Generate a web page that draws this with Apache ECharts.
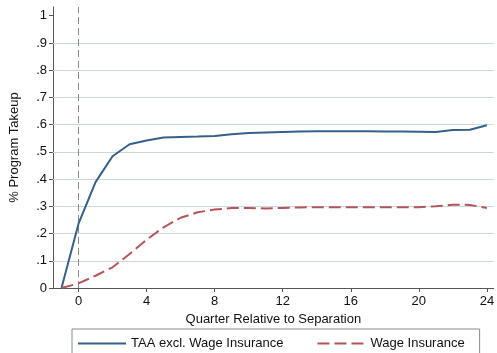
<!DOCTYPE html>
<html><head><meta charset="utf-8">
<script src="https://cdn.jsdelivr.net/npm/echarts@6/dist/echarts.min.js"></script>
<style>html,body{margin:0;padding:0;background:#fff}#c{width:497px;height:353px}</style>
</head><body><div id="c"></div>
<script>
const quarters = [-1,0,1,2,3,4,5,6,7,8,9,10,11,12,13,14,15,16,17,18,19,20,21,22,23,24];
const taaExclWI = [0,0.236,0.389,0.484,0.528,0.542,0.553,0.555,0.556,0.558,0.565,0.569,0.571,0.573,0.575,0.576,0.576,0.576,0.576,0.575,0.575,0.574,0.573,0.580,0.581,0.598];
const wageIns = [0,0.017,0.045,0.076,0.125,0.177,0.223,0.258,0.278,0.288,0.294,0.294,0.292,0.294,0.296,0.297,0.297,0.297,0.297,0.297,0.297,0.297,0.300,0.306,0.305,0.294];
const xTicks = [0,4,8,12,16,20,24];
const yTicks = [0,0.1,0.2,0.3,0.4,0.5,0.6,0.7,0.8,0.9,1];
const gridValues = [0.1,0.2,0.3,0.4,0.5,0.6,0.7,0.8,0.9];

const font = 'Liberation Sans, Arial, Helvetica, sans-serif';
const gridColor = '#c9d8d8';
const chart = echarts.init(document.getElementById('c'));
chart.setOption({
  animation: false,
  textStyle: {fontFamily: font},
  grid: {left: 46, right: 0, top: 7, bottom: 65, containLabel: false},
  xAxis: {
    type: 'value', min: -1.5, max: 24.4,
    name: 'Quarter Relative to Separation', nameLocation: 'middle', nameGap: 24,
    nameTextStyle: {fontSize: 13, color: '#111', fontFamily: font},
    axisLine: {show: true, onZero: false, lineStyle: {color: '#555', width: 1}},
    axisTick: {show: true, length: 4, customValues: xTicks, lineStyle: {color: '#555'}},
    axisLabel: {customValues: xTicks, fontSize: 13, color: '#111', margin: 7, fontFamily: font},
    splitLine: {show: false}
  },
  yAxis: {
    type: 'value', min: 0, max: 1.032,
    name: '% Program Takeup', nameLocation: 'middle', nameGap: 32,
    nameTextStyle: {fontSize: 13, color: '#111', fontFamily: font},
    axisLine: {show: true, onZero: false, lineStyle: {color: '#555', width: 1}},
    axisTick: {show: true, length: 4, customValues: yTicks, lineStyle: {color: '#555'}},
    axisLabel: {customValues: yTicks, fontSize: 13, color: '#111', margin: 6, fontFamily: font,
      formatter: v => (v === 0 ? '0' : v === 1 ? '1' : String(v).replace(/^0\./, '.'))},
    splitLine: {show: false}
  },
  legend: {
    left: 72, top: 329,
    padding: [8, 15, 8, 5],
    borderColor: '#888', borderWidth: 1,
    itemWidth: 48, itemHeight: 14, itemGap: 33,
    itemStyle: {opacity: 0},
    textStyle: {fontSize: 13, color: '#111', fontFamily: font},
    data: ['TAA excl. Wage Insurance', 'Wage Insurance']
  },
  series: [
    {
      name: 'TAA excl. Wage Insurance', type: 'line', symbol: 'none', showSymbol: false,
      data: quarters.map((q, i) => [q, taaExclWI[i]]),
      lineStyle: {color: '#35608a', width: 2},
      itemStyle: {color: '#35608a'},
      z: 5,
      markLine: {
        silent: true, symbol: 'none', label: {show: false}, animation: false,
        data: gridValues.map(v => ({yAxis: v, lineStyle: {color: gridColor, width: 1, type: 'solid'}}))
          .concat([{xAxis: 0, lineStyle: {color: '#8a8a8a', width: 1, type: [7, 4]}}])
      }
    },
    {
      name: 'Wage Insurance', type: 'line', symbol: 'none', showSymbol: false,
      data: quarters.map((q, i) => [q, wageIns[i]]),
      lineStyle: {color: '#b4545a', width: 2, type: [12, 5]},
      itemStyle: {color: '#b4545a'},
      z: 5
    }
  ]
});
</script></body></html>
